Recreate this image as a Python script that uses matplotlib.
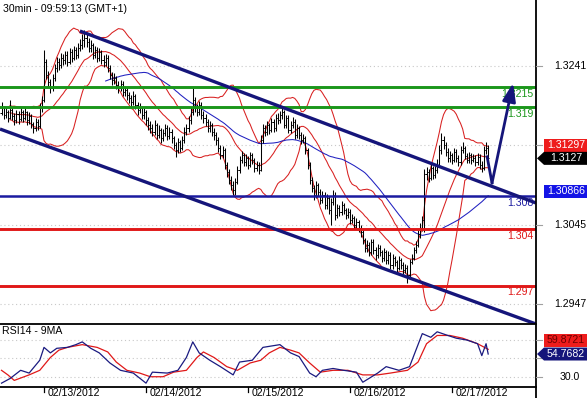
import numpy as np
import pandas as pd
import matplotlib
matplotlib.use('Agg')
import matplotlib.pyplot as plt
from matplotlib.patches import Polygon
from matplotlib.lines import Line2D

plt.rcParams['font.family'] = ['Liberation Sans', 'DejaVu Sans']

# ---------------- data (prices in pips above 1.2900) ----------------
BASE = 1.29
first_open_pips = 283
close_pips = [289,280,284,277,287,279,274,282,276,284,
              277,284,274,279,269,264,272,267,289,299,
              346,330,321,314,326,339,346,342,351,348,
              355,346,358,351,361,355,363,367,373,376,
              371,363,367,355,361,351,358,348,346,351,
              339,330,324,326,318,314,319,309,311,305,
              301,297,304,293,287,289,280,284,274,268,
              264,260,268,256,262,252,258,264,255,260,
              252,243,237,247,240,250,260,264,274,284,
              299,289,284,293,280,277,272,264,268,260,
              256,250,240,231,237,219,210,200,194,188,
              198,213,225,231,222,227,219,231,225,215,
              219,213,250,264,260,268,262,272,264,277,
              274,280,284,268,277,262,268,272,256,264,
              256,250,252,237,219,200,190,182,194,185,
              176,182,169,178,163,173,182,157,166,161,
              169,163,157,161,151,153,145,148,141,136,
              126,116,120,111,124,114,108,116,111,104,
              111,101,108,95,104,99,92,101,95,89,
              92,83,99,104,114,120,133,141,151,208,
              210,203,215,206,213,219,237,250,243,235,
              227,231,225,235,227,222,237,240,230,225,
              231,225,227,222,229,219,215,237,240,227]
high_pips = [296,292,290,287,299,290,283,287,286,290,
             287,289,286,284,282,272,277,276,295,304,
             361,350,335,325,331,344,352,351,357,356,
             360,359,363,362,366,365,369,374,380,386,
             382,375,373,370,366,364,363,361,354,356,
             354,342,334,332,329,322,324,322,316,315,
             309,305,310,307,296,295,292,289,287,278,
             273,269,274,271,268,265,263,270,268,266,
             263,255,247,252,250,255,266,270,279,290,
             314,303,294,298,296,285,282,276,273,271,
             265,260,253,244,242,240,223,214,205,199,
             203,218,230,236,234,232,230,235,234,228,
             224,222,256,269,268,273,271,277,275,282,
             283,286,291,287,281,280,273,278,275,269,
             267,259,257,255,240,222,204,194,199,197,
             189,187,185,183,181,178,188,185,171,170,
             174,172,166,166,164,158,156,153,151,145,
             139,129,126,124,128,127,118,121,120,114,
             116,114,113,111,109,107,102,106,104,99,
             97,95,103,109,118,125,138,147,156,214,
             216,214,220,218,218,226,243,258,254,247,
             240,236,234,240,238,231,242,247,242,234,
             235,234,232,231,233,232,224,242,247,243]
low_pips = [280,276,277,272,275,274,268,271,270,273,
            272,274,268,270,264,258,261,262,265,284,
            296,325,315,308,310,322,334,336,338,342,
            343,341,343,346,348,350,351,359,362,365,
            365,358,358,350,351,346,347,343,340,341,
            334,325,318,319,313,308,310,304,304,299,
            295,291,293,288,281,283,275,276,268,262,
            258,254,256,251,252,246,248,254,250,251,
            246,238,229,233,235,237,246,256,260,270,
            280,284,279,280,275,271,267,259,260,255,
            250,244,235,226,227,214,204,195,188,182,
            182,195,209,221,217,218,214,216,220,210,
            211,208,211,246,255,256,257,259,260,261,
            269,271,276,264,264,258,258,264,251,252,
            251,245,246,232,214,195,185,176,178,180,
            171,172,164,165,158,145,170,151,153,156,
            157,158,152,153,146,147,140,141,136,130,
            121,111,112,106,108,109,102,104,106,99,
            100,96,97,90,91,94,87,89,90,84,
            85,73,80,96,101,110,117,129,137,136,
            200,198,200,201,203,209,216,232,238,230,
            222,223,220,222,223,218,219,233,226,221,
            221,220,222,218,219,214,210,213,232,222]

# RSI(14) and its 9-period MA (bar index, value)
rsi_bar = [0,4,9,13,18,20,23,26,31,35,38,42,46,51,56,62,68,71,78,83,87,90,93,98,103,
           109,112,118,123,131,136,140,145,148,151,156,161,167,170,177,181,187,192,195,
           198,202,205,210,214,219,224,226,228,229]
rsi_val = [23,28,37,34,48,62,56,61,62,65,68,61,56,45,37,34,23,35,34,37,51,68,56,48,41,
           32,46,48,62,65,56,52,34,30,37,39,37,35,24,34,41,37,41,59,
           77,73,79,75,72,70,66,53,66,54.77]
ma_bar = [0,3,6,13,18,23,27,31,38,45,50,54,59,65,70,76,81,87,92,95,100,106,111,117,122,
          126,131,136,140,145,150,156,163,170,177,183,191,196,200,205,211,217,224,229]
ma_val = [37,32,26,32,37,51,59,62,65,62,57,46,37,34,30,30,35,37,51,57,51,41,37,45,48,
          56,62,59,56,45,35,37,37,32,32,34,37,46,66,75,75,72,66,59.87]

# horizontal support / resistance levels
level_vals = [1.3215, 1.319, 1.308, 1.304, 1.297]
level_text = ['1.3215', '1.319', '1.308', '1.304', '1.297']
level_cols = ['#1a961a', '#1a961a', '#1a1aa0', '#e01818', '#e01818']

# channel lines (bar index, price)
upper_channel = ([36.9, 251.5], [1.32842, 1.30719])
lower_channel = ([-0.7, 251.5], [1.31632, 1.29225])
# drawn projection arrow
proj_x = [228.5, 230.8, 240.7]
proj_y = [1.3129, 1.30966, 1.3220]

price_ticks = [1.3241, 1.3143, 1.3045, 1.2947]
price_tick_labels = ['1.3241', '', '1.3045', '1.2947']   # 1.3143 hidden under tag
rsi_ticks = [70, 50, 30]
rsi_tick_labels = ['', '', '30.0']                          # 70 / 50 hidden under tags
date_ticks = [20, 68, 116, 164, 212]
date_labels = ['02/13/2012', '02/14/2012', '02/15/2012', '02/16/2012', '02/17/2012']

# value tags
tag_bb_mid = 1.31297
tag_last = 1.3127
tag_ma = 1.30866
tag_rsi_ma = 59.8721
tag_rsi = 54.7682

# ---------------- derived ----------------
close = BASE + np.array(close_pips) / 1e4
high = BASE + np.array(high_pips) / 1e4
low = BASE + np.array(low_pips) / 1e4
opn = np.r_[BASE + first_open_pips / 1e4, close[:-1]]
xb = np.arange(len(close))
s = pd.Series(close)
mid = s.rolling(20, min_periods=5).mean()
sd = s.rolling(20, min_periods=5).std(ddof=0)
upper = mid + 2 * sd
lower = mid - 2 * sd
ma50 = s.rolling(50, min_periods=50).mean()

# ---------------- figure ----------------
W, H = 587, 398
FS = 7.6
fig = plt.figure(figsize=(W / 100, H / 100), dpi=100)
fig.patch.set_facecolor('white')

ax = fig.add_axes([0, 1 - 324 / H, 536 / W, 324 / H])
ax2 = fig.add_axes([0, 1 - 387 / H, 536 / W, 63 / H])

XL = (-0.706, 251.5)
ax.set_xlim(*XL)
ax.set_ylim(1.29225, 1.33225)
ax2.set_xlim(*XL)
ax2.set_ylim(18.8, 87.5)

for a in (ax, ax2):
    a.set_xticks([])
    a.set_yticks([])
    for sp in a.spines.values():
        sp.set_visible(False)

grid_kw = dict(color='#c8c8c8', lw=0.8, linestyle=(0, (1, 2.5)), zorder=0)
for t in price_ticks:
    ax.axhline(t, **grid_kw)
for t in rsi_ticks:
    ax2.axhline(t, **grid_kw)

# Bollinger bands + MA
for ln in (upper, mid, lower):
    ax.plot(xb, ln, color='#d82020', lw=0.75, zorder=2)
ax.plot(xb, ma50, color='#2020c0', lw=0.75, zorder=2)

# OHLC bars
ax.vlines(xb, low, high, color='black', lw=0.75, zorder=3)
ax.hlines(opn, xb - 0.5, xb, color='black', lw=0.7, zorder=3)
ax.hlines(close, xb, xb + 0.5, color='black', lw=0.7, zorder=3)

# levels
for v, t, c in zip(level_vals, level_text, level_cols):
    ax.axhline(v, color=c, lw=2.1 if c != '#1a1aa0' else 1.8, zorder=4)
    ax.annotate(t, xy=(1.0, v), xycoords=('axes fraction', 'data'),
                xytext=(-2, -5), textcoords='offset points',
                ha='right', va='center', color=c, fontsize=FS, zorder=5)

navy = '#15157a'
ax.plot(*upper_channel, color=navy, lw=2.4, solid_capstyle='butt', zorder=6)
ax.plot(*lower_channel, color=navy, lw=2.4, solid_capstyle='butt', zorder=6)
ax.plot(proj_x[:2], proj_y[:2], color=navy, lw=2.0, zorder=7)
ax.annotate('', xy=(proj_x[2], proj_y[2]), xytext=(proj_x[1], proj_y[1]),
            arrowprops=dict(arrowstyle='-|>,head_length=1.1,head_width=0.4',
                            mutation_scale=10, lw=2.0, color=navy,
                            shrinkA=0, shrinkB=0), zorder=7)

# RSI panel
ax2.plot(rsi_bar, rsi_val, color='#1a1a80', lw=0.9, zorder=3)
ax2.plot(ma_bar, ma_val, color='#e01818', lw=0.9, zorder=2)

# frame lines
def fl(x0, y0, x1, y1, **kw):
    fig.add_artist(Line2D([x0 / W, x1 / W], [1 - y0 / H, 1 - y1 / H],
                          transform=fig.transFigure, **kw))

fl(536, 0, 536, 398, color='black', lw=1.3, zorder=4)
fl(0, 324, 536, 324, color='black', lw=1.3, zorder=4)
fl(0, 387, 536, 387, color='black', lw=1.3, zorder=4)

fig.text(3 / W, 1 - 9 / H, '30min - 09:59:13 (GMT+1)', fontsize=FS, va='center', ha='left')
fig.text(2 / W, 1 - 331.5 / H, 'RSI14 - 9MA', fontsize=FS, va='center', ha='left')

# right axis ticks and labels
def right_label(a, v, txt):
    yb = a.transData.transform((0, v))[1]
    fl(536, H - yb, 542, H - yb, color='#a0a0a0', lw=0.8, zorder=4)
    if txt:
        fig.text(570 / W, yb / H, txt, fontsize=FS, ha='center', va='center', zorder=5)

for t, lab in zip(price_ticks, price_tick_labels):
    right_label(ax, t, lab)
for t, lab in zip(rsi_ticks, rsi_tick_labels):
    right_label(ax2, t, lab)

# date ticks
for b, lab in zip(date_ticks, date_labels):
    xp = ax2.transData.transform((b, 0))[0]
    fl(xp, 387, xp, 392, color='black', lw=0.9, zorder=4)
    fig.text((xp + 4) / W, 1 - 392.5 / H, lab, fontsize=FS, ha='left', va='center')

# value tags
def tag(a, value, fc, tc, arrow=False, dy=0.0, fmt=None):
    yc = a.transData.transform((0, value))[1] + dy
    h = 6.5
    if arrow:
        pts = [(537, yc), (544, yc + h), (587, yc + h), (587, yc - h), (544, yc - h)]
    else:
        pts = [(544, yc + h), (587, yc + h), (587, yc - h), (544, yc - h)]
    fig.patches.append(Polygon([(x / W, y / H) for x, y in pts], closed=True,
                               transform=fig.transFigure, facecolor=fc,
                               edgecolor='none', zorder=10))
    fig.text(566 / W, yc / H, fmt, color=tc, fontsize=FS, ha='center', va='center', zorder=11)

tag(ax, tag_bb_mid, '#ee1c1c', 'white', dy=10.8, fmt=f'{tag_bb_mid:.5f}')
tag(ax, tag_last, 'black', 'white', arrow=True, fmt=f'{tag_last:.4f}')
tag(ax, tag_ma, '#1414e6', 'white', fmt=f'{tag_ma:.5f}')
tag(ax2, tag_rsi_ma, '#ee1c1c', '#6a0000', dy=9.3, fmt=f'{tag_rsi_ma:.4f}')
tag(ax2, tag_rsi, '#15157a', 'white', arrow=True, fmt=f'{tag_rsi:.4f}')

fig.savefig('out.png', dpi=100)
